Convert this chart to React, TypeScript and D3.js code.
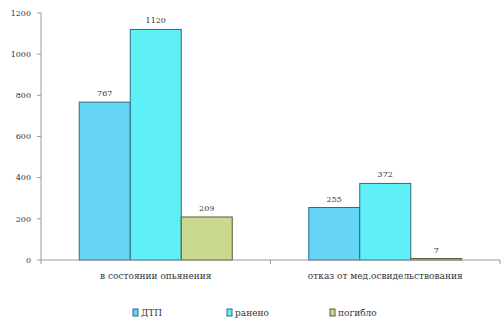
import React from "react";
import * as d3 from "d3";

const categories = ["в состоянии опьянения", "отказ от мед.освидельствования"];
const seriesNames = ["ДТП", "ранено", "погибло"];
const dtp = [767, 255];
const raneno = [1120, 372];
const pogiblo = [209, 7];
const yTicks = [0, 200, 400, 600, 800, 1000, 1200];

const colors = ["#66d4f4", "#5ef0f6", "#c9d98f"];
const strokes = ["#2f6b80", "#2f6b80", "#5a5a3a"];

export default function App() {
  const W = 504, H = 322;
  const left = 41, right = 500, top = 13, bottom = 260;
  const series = [dtp, raneno, pogiblo];
  const x0 = d3.scaleBand<string>().domain(categories).range([left, right]).paddingInner(0).paddingOuter(0);
  const groupW = 153;
  const x1 = d3.scaleBand<string>().domain(seriesNames).range([0, groupW]).padding(0);
  const y = d3.scaleLinear().domain([0, 1200]).range([bottom, top]);
  const font = "'DejaVu Serif', serif";
  const legendX = [133, 227, 330];
  const ts = { fontFamily: font };

  return (
    <svg width={W} height={H} style={{ position: "absolute", left: 0, top: 0, background: "#fff" }}>
      <line x1={left} x2={left} y1={top} y2={bottom} stroke="#9a9a9a" strokeWidth={1} />
      {yTicks.map((t) => (
        <g key={t}>
          <line x1={left - 4} x2={left} y1={y(t)} y2={y(t)} stroke="#9a9a9a" />
          <text x={left - 10} y={y(t)} dy="0.35em" textAnchor="end" style={ts} fontSize={8} fill="#333">
            {t}
          </text>
        </g>
      ))}
      {categories.map((c, ci) => {
        const gx = (x0(c) as number) + (x0.bandwidth() - groupW) / 2;
        return (
          <g key={c}>
            {seriesNames.map((s, si) => {
              const v = series[si][ci];
              const bx = gx + (x1(s) as number);
              return (
                <g key={s}>
                  <rect x={bx} y={y(v)} width={x1.bandwidth()} height={bottom - y(v)} fill={colors[si]} stroke={strokes[si]} strokeWidth={1} />
                  <text x={bx + x1.bandwidth() / 2} y={y(v) - 6} textAnchor="middle" style={ts} fontSize={8} fill="#333">
                    {v}
                  </text>
                </g>
              );
            })}
            <text x={(x0(c) as number) + x0.bandwidth() / 2} y={279} textAnchor="middle" style={ts} fontSize={9} fill="#333">
              {c}
            </text>
          </g>
        );
      })}
      <line x1={left} x2={right} y1={bottom} y2={bottom} stroke="#9a9a9a" />
      {categories.map((c, i) => (
        <line key={i} x1={(x0(c) as number) + x0.bandwidth()} x2={(x0(c) as number) + x0.bandwidth()} y1={bottom} y2={bottom + 4} stroke="#9a9a9a" />
      ))}
      <line x1={left} x2={left} y1={bottom} y2={bottom + 4} stroke="#9a9a9a" />
      {seriesNames.map((s, i) => (
        <g key={s}>
          <rect x={legendX[i]} y={309} width={5} height={7} fill={colors[i]} stroke={strokes[i]} strokeWidth={1} />
          <text x={legendX[i] + 8} y={316} style={ts} fontSize={9} fill="#333">
            {s}
          </text>
        </g>
      ))}
    </svg>
  );
}
